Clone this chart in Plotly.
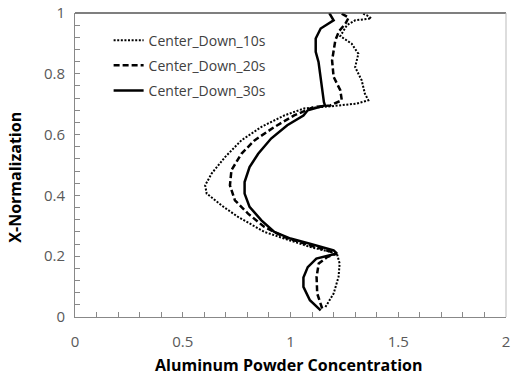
import plotly.graph_objects as go

# ---- data ----
y_10s = [0.033, 0.077, 0.132, 0.176, 0.209, 0.230, 0.258, 0.280, 0.329, 0.367, 0.406, 0.433,
         0.472, 0.526, 0.581, 0.625, 0.663, 0.686, 0.693, 0.702, 0.713, 0.735, 0.779, 0.822,
         0.866, 0.899, 0.924, 0.960, 0.976, 0.982, 0.992, 1.000]
x_10s = [1.162, 1.200, 1.223, 1.228, 1.215, 1.093, 0.971, 0.879, 0.757, 0.680, 0.611, 0.604,
         0.634, 0.696, 0.772, 0.864, 0.971, 1.063, 1.185, 1.307, 1.361, 1.345, 1.330, 1.300,
         1.315, 1.284, 1.231, 1.262, 1.300, 1.375, 1.355, 1.330]

y_20s = [0.028, 0.077, 0.132, 0.176, 0.197, 0.209, 0.235, 0.263, 0.296, 0.340, 0.384, 0.433,
         0.483, 0.537, 0.581, 0.625, 0.663, 0.691, 0.696, 0.713, 0.746, 0.790, 0.844, 0.910,
         0.940, 0.965, 0.985, 1.000]
x_20s = [1.147, 1.124, 1.121, 1.131, 1.170, 1.215, 1.093, 0.971, 0.879, 0.803, 0.742, 0.719,
         0.726, 0.772, 0.833, 0.925, 1.017, 1.109, 1.185, 1.238, 1.231, 1.200, 1.193, 1.208,
         1.225, 1.255, 1.270, 1.232]

y_30s = [0.022, 0.055, 0.099, 0.130, 0.164, 0.192, 0.209, 0.219, 0.241, 0.258, 0.280, 0.318,
         0.362, 0.406, 0.444, 0.493, 0.537, 0.587, 0.631, 0.663, 0.680, 0.696, 0.707, 0.751,
         0.795, 0.839, 0.872, 0.916, 0.949, 0.976, 1.000]
x_30s = [1.140, 1.090, 1.060, 1.060, 1.080, 1.120, 1.215, 1.200, 1.090, 1.000, 0.925, 0.865,
         0.810, 0.787, 0.787, 0.810, 0.850, 0.910, 0.985, 1.060, 1.080, 1.160, 1.155, 1.147,
         1.140, 1.130, 1.117, 1.117, 1.140, 1.200, 1.180]

names = ["Center_Down_10s", "Center_Down_20s", "Center_Down_30s"]

x_ticks = [0, 0.5, 1, 1.5, 2]
x_labels = ["0", "0.5", "1", "1.5", "2"]
y_ticks = [0, 0.2, 0.4, 0.6, 0.8, 1]
y_labels = ["0", "0.2", "0.4", "0.6", "0.8", "1"]

fig = go.Figure()
fig.add_trace(go.Scatter(x=x_10s, y=y_10s, mode="lines", name=names[0], legendgroup="a",
                         line=dict(color="black", width=2, dash="2px,1.6px")))
fig.add_trace(go.Scatter(x=x_20s, y=y_20s, mode="lines", name=names[1], legendgroup="b",
                         line=dict(color="black", width=2.5, dash="6px,3px")))
fig.add_trace(go.Scatter(x=x_30s, y=y_30s, mode="lines", name=names[2], legendgroup="c",
                         line=dict(color="black", width=2.5)))

tickfont = dict(family="Open Sans", size=15, color="#595959")
fig.update_xaxes(range=[0, 2], tickvals=x_ticks, ticktext=x_labels, ticks="inside", ticklen=5,
                 tickcolor="#888888", showline=True, linecolor="#888888", linewidth=1,
                 showgrid=False, zeroline=False, tickfont=tickfont,
                 ticklabelstandoff=11, ticklabeloverflow="allow",
                 minor=dict(dtick=0.1, ticks="inside", ticklen=5, tickcolor="#888888"))
fig.update_yaxes(range=[0, 1], tickvals=y_ticks, ticktext=y_labels, ticks="inside", ticklen=5,
                 tickcolor="#888888", showline=True, linecolor="#888888", linewidth=1,
                 showgrid=False, zeroline=False, tickfont=tickfont,
                 ticklabelstandoff=6, ticklabeloverflow="allow",
                 minor=dict(dtick=0.04, ticks="inside", ticklen=5, tickcolor="#888888"))

fig.add_shape(type="line", xref="paper", yref="paper", x0=0, x1=1, y0=1, y1=1,
              line=dict(color="#555555", width=1.5))
fig.add_shape(type="line", xref="paper", yref="paper", x0=1, x1=1, y0=0, y1=1,
              line=dict(color="#bbbbbb", width=1))

fig.add_annotation(text="<b>Aluminum Powder Concentration</b>", xref="paper", yref="paper",
                   x=0.4966, y=-0.158, xanchor="center", yanchor="middle", showarrow=False,
                   font=dict(family="Open Sans", size=16, color="black"))
fig.add_annotation(text="<b>X-Normalization</b>", xref="paper", yref="paper", textangle=-90,
                   x=-0.138, y=0.46, xanchor="center", yanchor="middle", showarrow=False,
                   font=dict(family="Open Sans", size=16, color="black"))

fig.update_layout(
    width=511, height=378,
    margin=dict(l=75, r=1, t=13, b=61),
    paper_bgcolor="white", plot_bgcolor="white",
    showlegend=True,
    legend=dict(x=0.078, y=0.962, xanchor="left", yanchor="top", bgcolor="rgba(0,0,0,0)",
                font=dict(family="Open Sans", size=14, color="#404040"),
                tracegroupgap=4, itemwidth=30),
)

fig.write_html("out.html")
